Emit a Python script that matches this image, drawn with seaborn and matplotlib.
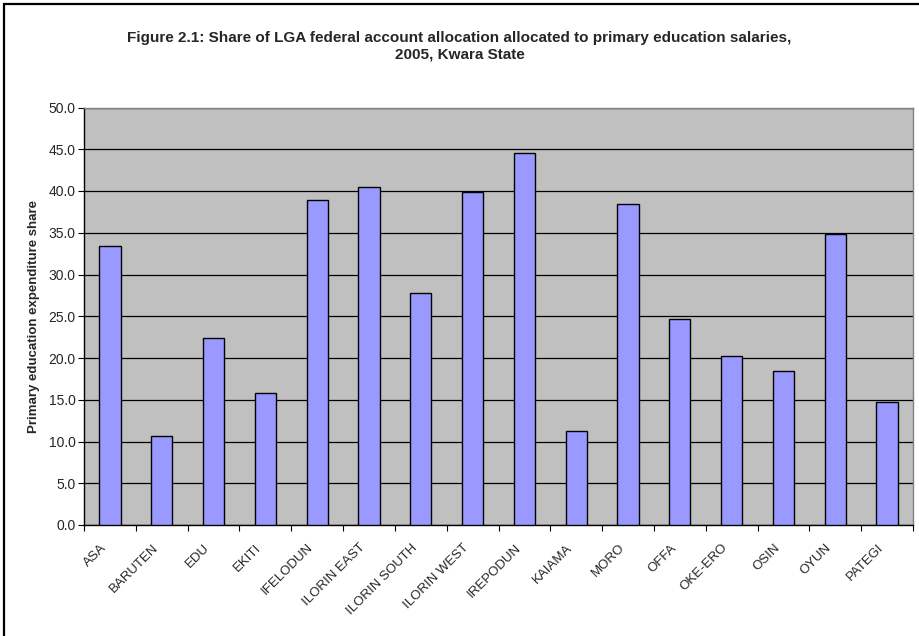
import numpy as np
import pandas as pd
import matplotlib
matplotlib.use("Agg")
import matplotlib.pyplot as plt
import seaborn as sns
from matplotlib.patches import Rectangle

lgas = ["ASA", "BARUTEN", "EDU", "EKITI", "IFELODUN", "ILORIN EAST",
        "ILORIN SOUTH", "ILORIN WEST", "IREPODUN", "KAIAMA", "MORO",
        "OFFA", "OKE-ERO", "OSIN", "OYUN", "PATEGI"]
shares = [33.4, 10.6, 22.4, 15.8, 38.9, 40.5, 27.8, 39.9, 44.5, 11.3,
          38.4, 24.7, 20.2, 18.5, 34.8, 14.7]
y_ticks = [0, 5, 10, 15, 20, 25, 30, 35, 40, 45, 50]

title = ("Figure 2.1: Share of LGA federal account allocation allocated to primary education salaries,\n"
         "2005, Kwara State")
y_label = "Primary education expenditure share"

sns.set_theme(style="white")
plt.rcParams["font.family"] = ["Liberation Sans", "DejaVu Sans"]

df = pd.DataFrame({"lga": lgas, "share": shares})

fig = plt.figure(figsize=(9.19, 6.36), dpi=100)
ax = fig.add_axes([84 / 919, 1 - 525 / 636, (913 - 84) / 919, (525 - 107.5) / 636])

sns.barplot(data=df, x="lga", y="share", order=lgas, color="#9999FF",
            saturation=1, width=0.41, edgecolor="black", linewidth=1.0, ax=ax,
            zorder=3)

ax.set_facecolor("#C0C0C0")
ax.set_ylim(0, 50)
ax.set_xlim(-0.5, len(lgas) - 0.5)
ax.set_yticks(y_ticks)
ax.set_yticklabels([f"{v:.1f}" for v in y_ticks], fontsize=10)
ax.yaxis.grid(True, color="black", linewidth=0.9, zorder=0)
ax.set_axisbelow(True)

# rotated category labels end just left of each bar centre;
# tick marks sit at category boundaries
ax.set_xticks(np.arange(len(lgas)) - 0.19)
ax.set_xticklabels(lgas, rotation=45, ha="right", va="top",
                   rotation_mode="anchor", fontsize=9.5)
ax.set_xticks(np.arange(-0.5, len(lgas)), minor=True)
ax.tick_params(axis="x", which="major", length=0, pad=12)
ax.tick_params(axis="x", which="minor", length=4, width=0.8, color="black", direction="out", bottom=True)
ax.tick_params(axis="y", which="major", length=4, width=0.8, color="black", direction="out", left=True, pad=2)

ax.set_xlabel("")
ax.set_ylabel(y_label, fontsize=9.5, fontweight="bold", labelpad=6)

for side in ["top", "right"]:
    ax.spines[side].set_color("#808080")
    ax.spines[side].set_linewidth(1.0)
for side in ["left", "bottom"]:
    ax.spines[side].set_color("black")
    ax.spines[side].set_linewidth(1.0)

fig.text(0.5, 1 - 46 / 636, title, ha="center", va="center", fontsize=11,
         fontweight="bold", linespacing=1.25)

# chart frame
fig.patches.append(Rectangle((4 / 919, -0.05), 1.2, 1 - 4 / 636 + 0.05,
                             transform=fig.transFigure, fill=False,
                             edgecolor="black", linewidth=1.6))

fig.savefig("out.png", dpi=100)
